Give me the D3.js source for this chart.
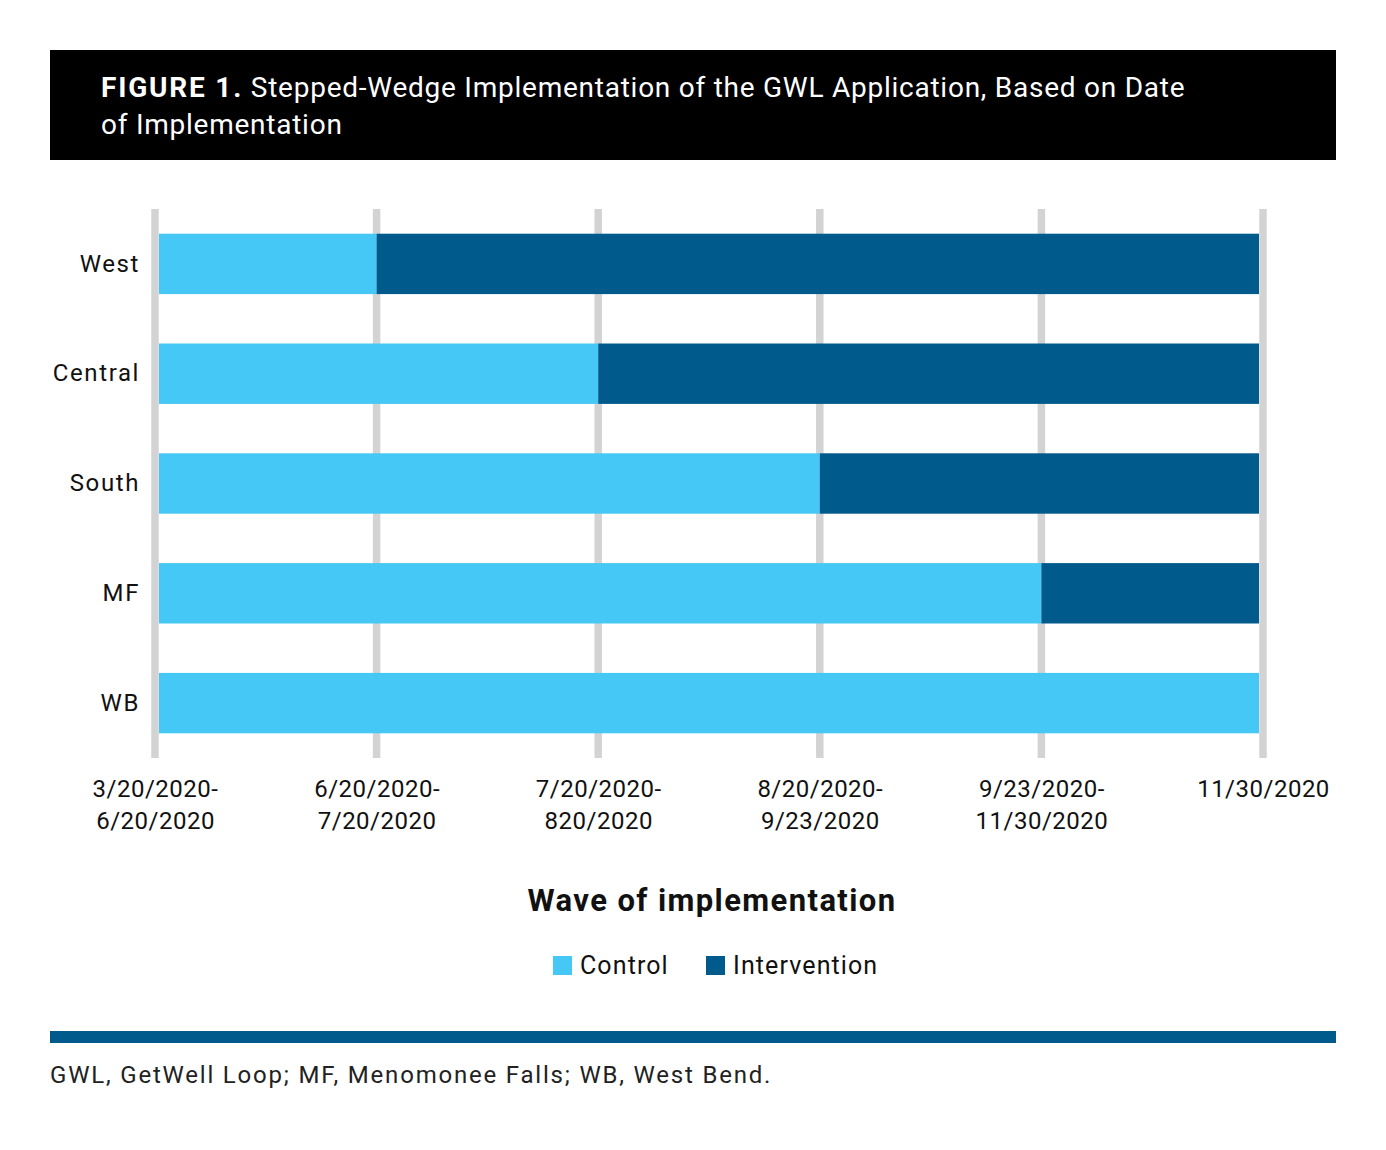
<!DOCTYPE html>
<html>
<head>
<meta charset="utf-8">
<script src="https://cdn.jsdelivr.net/npm/d3@7"></script>
<style>
  body { margin: 0; background: #fff; }
  svg text { font-family: Roboto, "Noto Sans", sans-serif; }
</style>
</head>
<body>
<svg width="1386" height="1150"></svg>
<script>
// data
const sites = ["West", "Central", "South", "MF", "WB"]
const switchWave = [1, 2, 3, 4, 5]   // wave at which site moves to intervention
const waveCount = 5
const tickLabels = [
  ["3/20/2020-", "6/20/2020"],
  ["6/20/2020-", "7/20/2020"],
  ["7/20/2020-", "820/2020"],
  ["8/20/2020-", "9/23/2020"],
  ["9/23/2020-", "11/30/2020"],
  ["11/30/2020"]
]
const series = ["Control", "Intervention"]
const colors = { Control: "#45c8f5", Intervention: "#005a8c" }

const svg = d3.select("svg")
const width = +svg.attr("width")

// header box
svg.append("rect").attr("x", 50).attr("y", 50).attr("width", 1286).attr("height", 110).attr("fill", "#000")
const t1 = svg.append("text").attr("x", 101).attr("y", 97).attr("fill", "#fff")
  .style("font-size", "28px").style("letter-spacing", "0.75px")
t1.append("tspan").attr("font-weight", "bold").style("letter-spacing", "1.8px").text("FIGURE 1.")
t1.append("tspan").text(" Stepped-Wedge Implementation of the GWL Application, Based on Date")
svg.append("text").attr("x", 101).attr("y", 134).attr("fill", "#fff")
  .style("font-size", "28px").style("letter-spacing", "0.75px")
  .text("of Implementation")

// scales
const xScale = d3.scaleLinear().domain([0, waveCount]).range([155, 1263])
const yScale = d3.scaleBand().domain(sites).range([209, 758])
  .paddingInner(0.45).paddingOuter(0.225)

const g = svg.append("g")

// grid lines
g.selectAll(".grid").data(d3.range(waveCount + 1))
  .enter().append("line")
  .attr("x1", d => xScale(d)).attr("x2", d => xScale(d))
  .attr("y1", 209).attr("y2", 758)
  .attr("stroke", "#d3d3d3").attr("stroke-width", 7.5)

// bars
const inset = 4
sites.forEach((s, i) => {
  const y = yScale(s)
  const h = yScale.bandwidth()
  const x0 = xScale(0) + inset
  const xs = Math.min(xScale(switchWave[i]), xScale(waveCount) - inset)
  const x1 = xScale(waveCount) - inset
  g.append("rect").attr("x", x0).attr("y", y).attr("width", xs - x0).attr("height", h)
    .attr("fill", colors.Control)
  if (x1 > xs) {
    g.append("rect").attr("x", xs).attr("y", y).attr("width", x1 - xs).attr("height", h)
      .attr("fill", colors.Intervention)
  }
})

// y axis
const yAxisG = svg.append("g").attr("transform", "translate(140,0)")
  .call(d3.axisLeft(yScale).tickSize(0).tickPadding(0))
yAxisG.select(".domain").remove()
yAxisG.selectAll("text").style("font-size", "24px").attr("fill", "#111")
  .style("letter-spacing", "1.6px").attr("font-family", null)

// x axis
const xAxisG = svg.append("g").attr("transform", "translate(0,770)")
  .call(d3.axisBottom(xScale).tickValues(d3.range(waveCount + 1)).tickSize(0).tickFormat(""))
xAxisG.select(".domain").remove()
xAxisG.selectAll(".tick").each(function (d) {
  const txt = d3.select(this).append("text")
    .attr("text-anchor", "middle").attr("fill", "#111")
    .style("font-size", "24px").style("letter-spacing", "0.5px")
  tickLabels[d].forEach((line, j) => {
    txt.append("tspan").attr("x", 0).attr("y", 27 + j * 32).text(line)
  })
})

// axis title
svg.append("text").attr("x", 712).attr("y", 911).attr("text-anchor", "middle")
  .attr("font-weight", "bold").style("font-size", "31px").style("letter-spacing", "1.4px")
  .attr("fill", "#111")
  .text("Wave of implementation")

// legend
const legendX = [553, 706]
series.forEach((s, i) => {
  svg.append("rect").attr("x", legendX[i]).attr("y", 956).attr("width", 19).attr("height", 19)
    .attr("fill", colors[s])
  svg.append("text").attr("x", legendX[i] + 27).attr("y", 974)
    .style("font-size", "25px").style("letter-spacing", "1.1px").attr("fill", "#111").text(s)
})

// bottom rule and footnote
svg.append("rect").attr("x", 50).attr("y", 1031).attr("width", 1286).attr("height", 12).attr("fill", "#005a8c")
svg.append("text").attr("x", 50).attr("y", 1083).style("font-size", "24px")
  .style("letter-spacing", "1.8px").attr("fill", "#222")
  .text("GWL, GetWell Loop; MF, Menomonee Falls; WB, West Bend.")
</script>
</body>
</html>
